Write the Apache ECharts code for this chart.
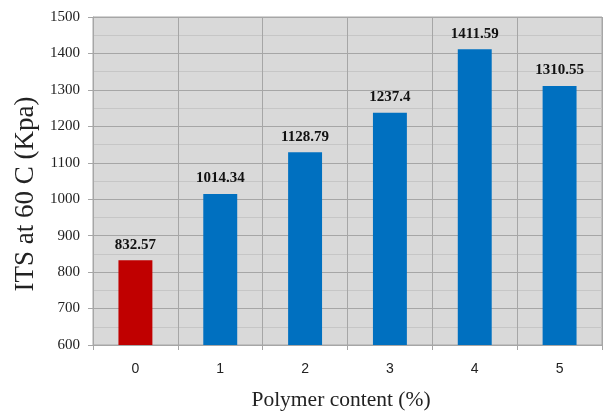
<!DOCTYPE html>
<html>
<head>
<meta charset="utf-8">
<script src="https://cdn.jsdelivr.net/npm/echarts@6/dist/echarts.min.js"></script>
<style>
  html, body { margin: 0; padding: 0; background: #fff; }
  #chart { width: 605px; height: 412px; }
</style>
</head>
<body>
<div id="chart"></div>
<script>
// Polymer content categories and indirect tensile strength values
const categories = ['0', '1', '2', '3', '4', '5'];
const itsValues = [832.57, 1014.34, 1128.79, 1237.4, 1411.59, 1310.55];
const barColors = ['#C00000', '#0070C0', '#0070C0', '#0070C0', '#0070C0', '#0070C0'];
const yTicks = { min: 600, max: 1500, step: 100 };
const xTitle = 'Polymer content (%)';
const yTitle = 'ITS at 60 C (Kpa)';

const serif = 'Liberation Serif';
const chart = echarts.init(document.getElementById('chart'), null, { renderer: 'canvas' });

chart.setOption({
  animation: false,
  grid: { left: 93, right: 3, top: 17, bottom: 67, show: true, backgroundColor: '#D9D9D9', borderColor: '#A6A6A6', borderWidth: 1 },
  graphic: [
    {
      type: 'text', x: 341, y: 400,
      style: { text: xTitle, font: '21.5px "Liberation Serif"', fill: '#222', align: 'center', verticalAlign: 'middle' }
    },
    {
      type: 'text', x: 26, y: 194, rotation: Math.PI / 2,
      style: { text: yTitle, font: '27px "Liberation Serif"', fill: '#222', align: 'center', verticalAlign: 'middle' }
    }
  ],
  xAxis: {
    type: 'category',
    data: categories,
    axisLine: { show: true, lineStyle: { color: '#A6A6A6' } },
    axisTick: { show: true, length: 5, lineStyle: { color: '#A6A6A6' } },
    axisLabel: { fontFamily: 'Liberation Sans', fontSize: 14, color: '#222', margin: 17 },
    splitLine: { show: true, lineStyle: { color: '#A6A6A6', width: 1 } }
  },
  yAxis: {
    type: 'value',
    min: yTicks.min,
    max: yTicks.max,
    interval: yTicks.step,
    axisLine: { show: true, lineStyle: { color: '#A6A6A6' } },
    axisTick: { show: true, inside: false, length: 5, lineStyle: { color: '#A6A6A6' } },
    axisLabel: { fontFamily: serif, fontSize: 15, color: '#222', margin: 13, formatter: v => String(v) },
    splitLine: { show: true, lineStyle: { color: '#A6A6A6', width: 1 } },
    minorTick: { show: false, splitNumber: 2 },
    minorSplitLine: { show: true, lineStyle: { color: '#C6C6C6', width: 1 } }
  },
  series: [{
    type: 'bar',
    data: itsValues.map((v, i) => ({ value: v, itemStyle: { color: barColors[i] } })),
    barWidth: '40%',
    label: {
      show: true,
      position: 'top',
      distance: 8,
      fontFamily: serif,
      fontWeight: 'bold',
      fontSize: 15,
      color: '#111',
      formatter: p => String(p.value)
    }
  }]
});
</script>
</body>
</html>
